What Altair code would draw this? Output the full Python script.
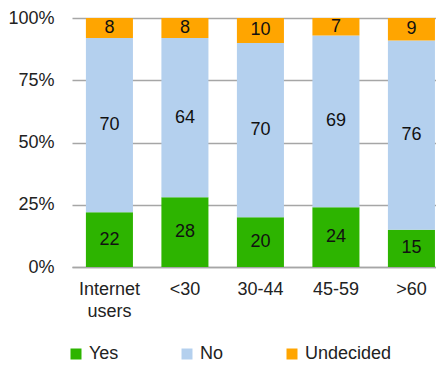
import altair as alt
import pandas as pd

groups = ["Internet users", "<30", "30-44", "45-59", ">60"]
answers = ["Yes", "No", "Undecided"]
yes_vals = [22, 28, 20, 24, 15]
no_vals = [70, 64, 70, 69, 76]
und_vals = [8, 8, 10, 7, 9]
colors = ["#2db400", "#b4d0ee", "#ffa500"]

rows = []
for i, g in enumerate(groups):
    for j, (a, vals) in enumerate(zip(answers, [yes_vals, no_vals, und_vals])):
        rows.append({"group": g, "answer": a, "value": vals[i], "order": j})
df = pd.DataFrame(rows)

FONT = "Liberation Sans"
FS = 18

base = alt.Chart(df).transform_stack(
    stack="value", groupby=["group"], as_=["y0", "y1"],
    sort=[alt.SortField("order", order="ascending")]
).transform_calculate(mid="(datum.y0 + datum.y1) / 2")

xscale = alt.Scale(paddingInner=0.377, paddingOuter=0.099, align=0.93)

x = alt.X("group:N", sort=groups, title=None, scale=xscale,
          axis=alt.Axis(labelAngle=0, labelFont=FONT, labelFontSize=FS, labelColor="#222",
                        labelPadding=13, ticks=False, domainColor="#a6a6a6", domainWidth=1.5,
                        labelLineHeight=22,
                        labelExpr="datum.value == 'Internet users' ? ['Internet', 'users'] : datum.value"))

bars = base.mark_bar().encode(
    x=x,
    y=alt.Y("y0:Q", title=None, scale=alt.Scale(domain=[0, 100]),
            axis=alt.Axis(values=[0, 25, 50, 75, 100], labelExpr="datum.value + '%'",
                          labelFont=FONT, labelFontSize=FS, labelColor="#222", labelPadding=18,
                          ticks=False, domain=False, gridColor="#a6a6a6", gridWidth=1.5)),
    y2="y1:Q",
    color=alt.Color("answer:N", sort=answers, title=None,
                    scale=alt.Scale(domain=answers, range=colors),
                    legend=alt.Legend(orient="none", legendX=-5, legendY=327, direction="horizontal",
                                      symbolType="square", symbolSize=121, symbolStrokeWidth=0,
                                      labelFont=FONT, labelFontSize=FS, labelColor="#222",
                                      columnPadding=59, labelOffset=4, padding=0)),
)

labels = base.mark_text(font=FONT, fontSize=FS, color="#111").encode(
    x=alt.X("group:N", sort=groups),
    y=alt.Y("mid:Q"),
    text="value:Q",
)

chart = (bars + labels).properties(
    width=364, height=249,
    padding={"left": 64, "top": 10, "right": 0, "bottom": 97},
    autosize=alt.AutoSizeParams(type="none"),
).configure_view(stroke=None)

chart.save("out.html", embed_options={"renderer": "svg", "actions": False})
